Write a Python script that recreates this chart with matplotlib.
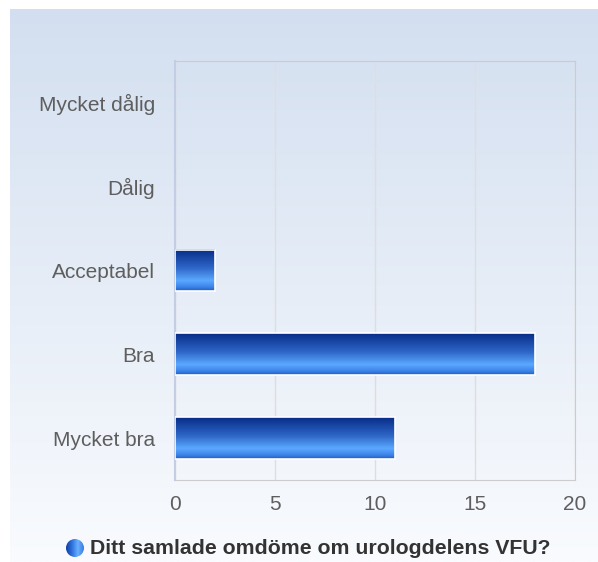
import matplotlib
matplotlib.use("Agg")
import matplotlib.pyplot as plt
import numpy as np
from matplotlib.colors import LinearSegmentedColormap
from matplotlib.patches import Circle

plt.rcParams['font.family'] = ['Liberation Sans', 'DejaVu Sans']

# data
categories = ["Mycket dålig", "Dålig", "Acceptabel", "Bra", "Mycket bra"]
values = [0, 0, 2, 18, 11]
xticks = [0, 5, 10, 15, 20]
series_name = "Ditt samlade omdöme om urologdelens VFU?"

W, H = 598, 562
fig = plt.figure(figsize=(W / 100, H / 100), dpi=100)
fig.patch.set_facecolor("white")

# background gradient panel
bg = fig.add_axes([10 / W, 0, 1 - 10 / W, 1 - 9 / H], zorder=0)
bg_cmap = LinearSegmentedColormap.from_list("bg", ["#d3dff0", "#f9fbfe"])
bg.imshow(np.linspace(0, 1, 256).reshape(-1, 1), cmap=bg_cmap, aspect="auto",
          extent=[0, 1, 0, 1], origin="upper")
bg.axis("off")

# main axes
ax = fig.add_axes([175 / W, 1 - 480 / H, 400 / W, 419 / H], zorder=1)
ax.patch.set_alpha(0)

bar_cmap = LinearSegmentedColormap.from_list(
    "bar", [(0.0, "#082c88"), (0.45, "#2e67c8"), (0.75, "#5aa8ff"), (0.9, "#3f86ea"), (1.0, "#1f5cc8")])
grad = np.linspace(0, 1, 128).reshape(-1, 1)

pos = np.arange(len(categories))
bh = 0.5
for p, v in zip(pos, values):
    if v <= 0:
        continue
    ax.imshow(grad, cmap=bar_cmap, aspect="auto", origin="upper",
              extent=[0, v, p + bh / 2, p - bh / 2], zorder=3)
    ax.barh(p, v, height=bh, facecolor="none", edgecolor="white", linewidth=1.2, zorder=4)

ax.set_xlim(0, 20)
ax.set_ylim(len(categories) - 0.5, -0.5)
ax.set_yticks(pos)
ax.set_yticklabels(categories)
ax.set_xticks(xticks)
ax.tick_params(length=0, colors="#5e5e5e", labelsize=15)
ax.tick_params(axis="y", pad=14.5)
ax.tick_params(axis="x", pad=11)
ax.grid(axis="x", color="#dedede", linewidth=1, zorder=0)
ax.set_axisbelow(True)
for s in ["top", "right", "bottom"]:
    ax.spines[s].set_color("#cccccc")
ax.spines["left"].set_color("#c3cde3")
ax.spines["left"].set_linewidth(1.5)

# legend
lax = fig.add_axes([0, 0, 1, 1], zorder=2)
lax.set_xlim(0, W)
lax.set_ylim(H, 0)
lax.axis("off")
circ = Circle((75, 548), 9, transform=lax.transData)
leg_cmap = LinearSegmentedColormap.from_list("leg", ["#0f3fa6", "#2f72dc", "#6ab0ff", "#3a7de0"])
im = lax.imshow(np.linspace(0, 1, 64).reshape(1, -1), cmap=leg_cmap, aspect="auto",
                extent=[66, 84, 557, 539])
im.set_clip_path(circ)
lax.text(90, 549, series_name, fontsize=15.3, fontweight="bold", color="#333333",
         va="center", ha="left")

fig.savefig("out.png", dpi=100)
